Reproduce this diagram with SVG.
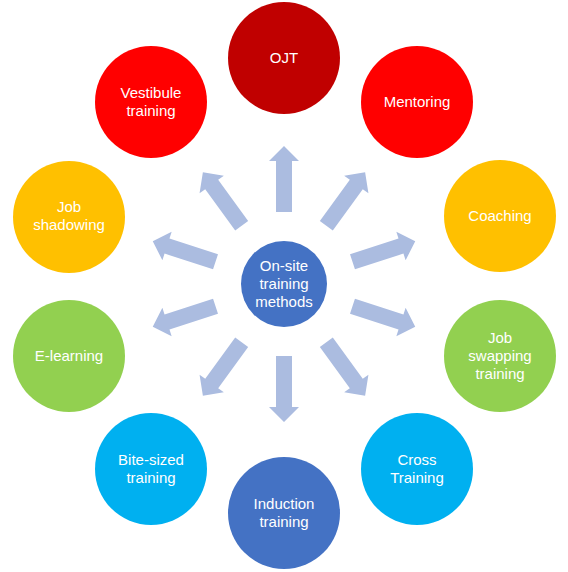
<svg xmlns="http://www.w3.org/2000/svg" width="568" height="572" viewBox="0 0 568 572">
<style>
.n{stroke:none}
.t{font-family:"Liberation Sans","Noto Sans",Arial,sans-serif;font-size:15px;fill:#FFFFFF;text-anchor:middle}
.a{fill:#ABBCE0}
</style>
<defs>
<polygon id="arr" points="-8,-72 -8,-123 -15,-123 0,-138 15,-123 8,-123 8,-72"/>
</defs>
<rect width="568" height="572" fill="#FFFFFF"/>
<g id="connectors" class="a">
<use href="#arr" transform="translate(284,284) rotate(0)"/>
<use href="#arr" transform="translate(284,284) rotate(36)"/>
<use href="#arr" transform="translate(284,284) rotate(72)"/>
<use href="#arr" transform="translate(284,284) rotate(108)"/>
<use href="#arr" transform="translate(284,284) rotate(144)"/>
<use href="#arr" transform="translate(284,284) rotate(180)"/>
<use href="#arr" transform="translate(284,284) rotate(216)"/>
<use href="#arr" transform="translate(284,284) rotate(252)"/>
<use href="#arr" transform="translate(284,284) rotate(288)"/>
<use href="#arr" transform="translate(284,284) rotate(324)"/>
</g>
<g id="center">
<circle cx="284" cy="284" r="43" fill="#4472C4"/>
<text class="t" x="284" y="271">On-site</text>
<text class="t" x="284" y="289">training</text>
<text class="t" x="284" y="307">methods</text>
</g>
<g id="ojt">
<circle cx="284" cy="58" r="56" fill="#C00000"/>
<text class="t" x="284" y="63">OJT</text>
</g>
<g id="mentoring">
<circle cx="417" cy="102" r="56" fill="#FF0000"/>
<text class="t" x="417" y="107">Mentoring</text>
</g>
<g id="coaching">
<circle cx="500" cy="216" r="56" fill="#FFC000"/>
<text class="t" x="500" y="221">Coaching</text>
</g>
<g id="job-swapping">
<circle cx="500" cy="356" r="56" fill="#92D050"/>
<text class="t" x="500" y="343">Job</text>
<text class="t" x="500" y="361">swapping</text>
<text class="t" x="500" y="379">training</text>
</g>
<g id="cross-training">
<circle cx="417" cy="469" r="56" fill="#00B0F0"/>
<text class="t" x="417" y="465">Cross</text>
<text class="t" x="417" y="483">Training</text>
</g>
<g id="induction">
<circle cx="284" cy="513" r="56" fill="#4472C4"/>
<text class="t" x="284" y="509">Induction</text>
<text class="t" x="284" y="527">training</text>
</g>
<g id="bite-sized">
<circle cx="151" cy="469" r="56" fill="#00B0F0"/>
<text class="t" x="151" y="465">Bite-sized</text>
<text class="t" x="151" y="483">training</text>
</g>
<g id="e-learning">
<circle cx="69" cy="356" r="56" fill="#92D050"/>
<text class="t" x="69" y="361">E-learning</text>
</g>
<g id="job-shadowing">
<circle cx="69" cy="217" r="56" fill="#FFC000"/>
<text class="t" x="69" y="212">Job</text>
<text class="t" x="69" y="230">shadowing</text>
</g>
<g id="vestibule">
<circle cx="151" cy="102" r="56" fill="#FF0000"/>
<text class="t" x="151" y="98">Vestibule</text>
<text class="t" x="151" y="116">training</text>
</g>
</svg>
